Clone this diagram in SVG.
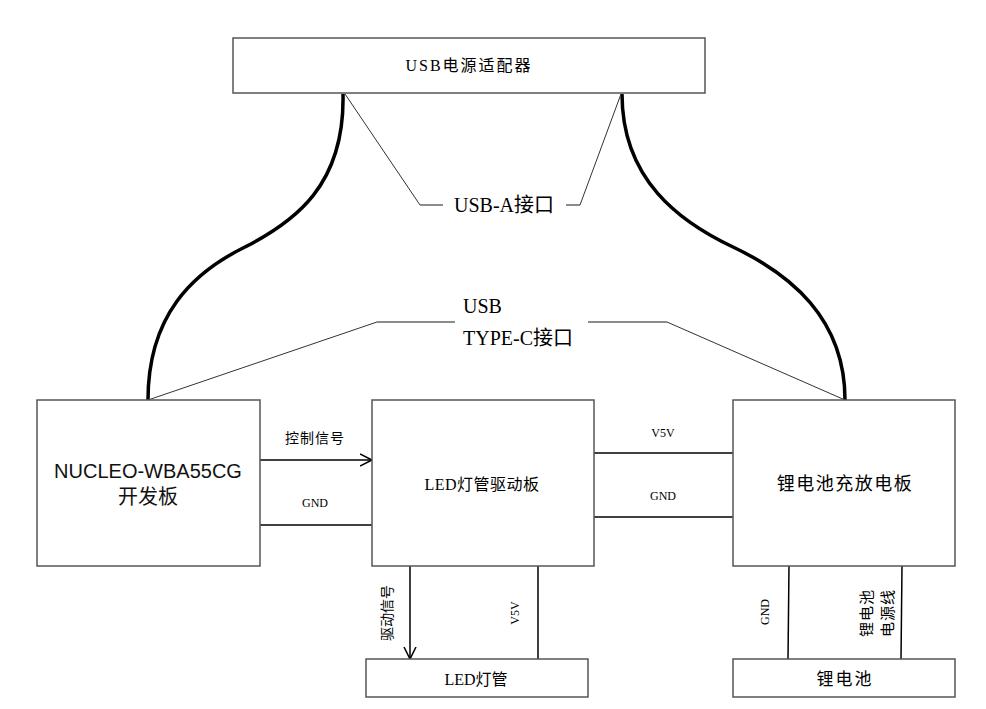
<svg xmlns="http://www.w3.org/2000/svg" width="986" height="709" viewBox="0 0 986 709">
<defs>
<style>
.box{fill:#fff;stroke:#555;stroke-width:1.5}
.wire{fill:none;stroke:#000;stroke-width:1.5}
.lead{fill:none;stroke:#333;stroke-width:1}
.leadh{fill:none;stroke:#666;stroke-width:1.5}
.cable{fill:none;stroke:#000;stroke-width:3.5}
.t{font-family:"Liberation Serif","Noto Sans CJK SC",serif;fill:#000;text-anchor:middle}
.s{font-family:"Liberation Sans","Noto Sans CJK SC",sans-serif;fill:#111;text-anchor:middle}
</style>
<marker id="arr" markerWidth="14" markerHeight="14" refX="12" refY="7" orient="auto" markerUnits="userSpaceOnUse">
<path d="M0,1 L12,7 L0,13" fill="none" stroke="#000" stroke-width="1.5"/>
</marker>
</defs>
<rect width="986" height="709" fill="#fff"/>
<g id="connectors">
<path class="cable" d="M343,94 C345,185 295,222 243,248 C193,273 148,315 148,400"/>
<path class="cable" d="M622,94 C622,180 680,222 733,247 C790,274 845,318 845,400"/>
<polyline class="lead" points="345,94 420,205"/>
<line class="leadh" x1="420" y1="205" x2="443" y2="205"/>
<line class="leadh" x1="566" y1="205" x2="580" y2="205"/>
<polyline class="lead" points="580,205 621,94"/>
<polyline class="lead" points="148,400 377,322"/>
<line class="leadh" x1="377" y1="322" x2="455" y2="322"/>
<line class="leadh" x1="588" y1="322" x2="667" y2="322"/>
<polyline class="lead" points="667,322 845,400"/>
<line class="wire" x1="260" y1="460" x2="372" y2="460" marker-end="url(#arr)"/>
<line class="wire" x1="260" y1="525" x2="372" y2="525"/>
<line class="wire" x1="594" y1="453" x2="733" y2="453"/>
<line class="wire" x1="594" y1="517" x2="733" y2="517"/>
<line class="wire" x1="410" y1="566" x2="410" y2="659" marker-end="url(#arr)"/>
<line class="wire" x1="538" y1="566" x2="538" y2="659"/>
<line class="wire" x1="789" y1="566" x2="788" y2="659"/>
<line class="wire" x1="902" y1="566" x2="901" y2="659"/>
<text class="t" x="504" y="212" font-size="20">USB-A接口</text>
<text class="t" x="463" y="313" font-size="20" text-anchor="start" style="text-anchor:start">USB</text>
<text class="t" x="463" y="345" font-size="20" style="text-anchor:start">TYPE-C接口</text>
<text class="t" x="315" y="443" font-size="14" letter-spacing="1">控制信号</text>
<text class="t" x="315" y="507" font-size="12">GND</text>
<text class="t" x="663" y="437" font-size="12">V5V</text>
<text class="t" x="663" y="500" font-size="12">GND</text>
<text class="t" font-size="14" transform="translate(392,613) rotate(-90)">驱动信号</text>
<text class="t" font-size="12" transform="translate(519,613) rotate(-90)">V5V</text>
<text class="t" font-size="12" transform="translate(769,612) rotate(-90)">GND</text>
<text class="t" font-size="15" letter-spacing="1" transform="translate(872,613) rotate(-90)">锂电池</text>
<text class="t" font-size="15" letter-spacing="1" transform="translate(893,613) rotate(-90)">电源线</text>
</g>
<g id="adapter">
<rect class="box" x="233" y="38" width="472" height="55"/>
<text class="t" x="469" y="71" font-size="16" letter-spacing="2">USB电源适配器</text>
</g>
<g id="nucleo">
<rect class="box" x="37" y="400" width="223" height="166"/>
<text class="s" x="148" y="478" font-size="20">NUCLEO-WBA55CG</text>
<text class="s" x="148" y="504" font-size="20">开发板</text>
</g>
<g id="driver">
<rect class="box" x="372" y="400" width="222" height="166"/>
<text class="t" x="482" y="490" font-size="16" letter-spacing="0.5">LED灯管驱动板</text>
</g>
<g id="charger">
<rect class="box" x="733" y="400" width="222" height="166"/>
<text class="t" x="845" y="490" font-size="18" letter-spacing="1.5">锂电池充放电板</text>
</g>
<g id="led">
<rect class="box" x="366" y="659" width="222" height="38"/>
<text class="t" x="476" y="685" font-size="16">LED灯管</text>
</g>
<g id="battery">
<rect class="box" x="733" y="659" width="222" height="38"/>
<text class="t" x="845" y="685" font-size="17" letter-spacing="2">锂电池</text>
</g>
</svg>
